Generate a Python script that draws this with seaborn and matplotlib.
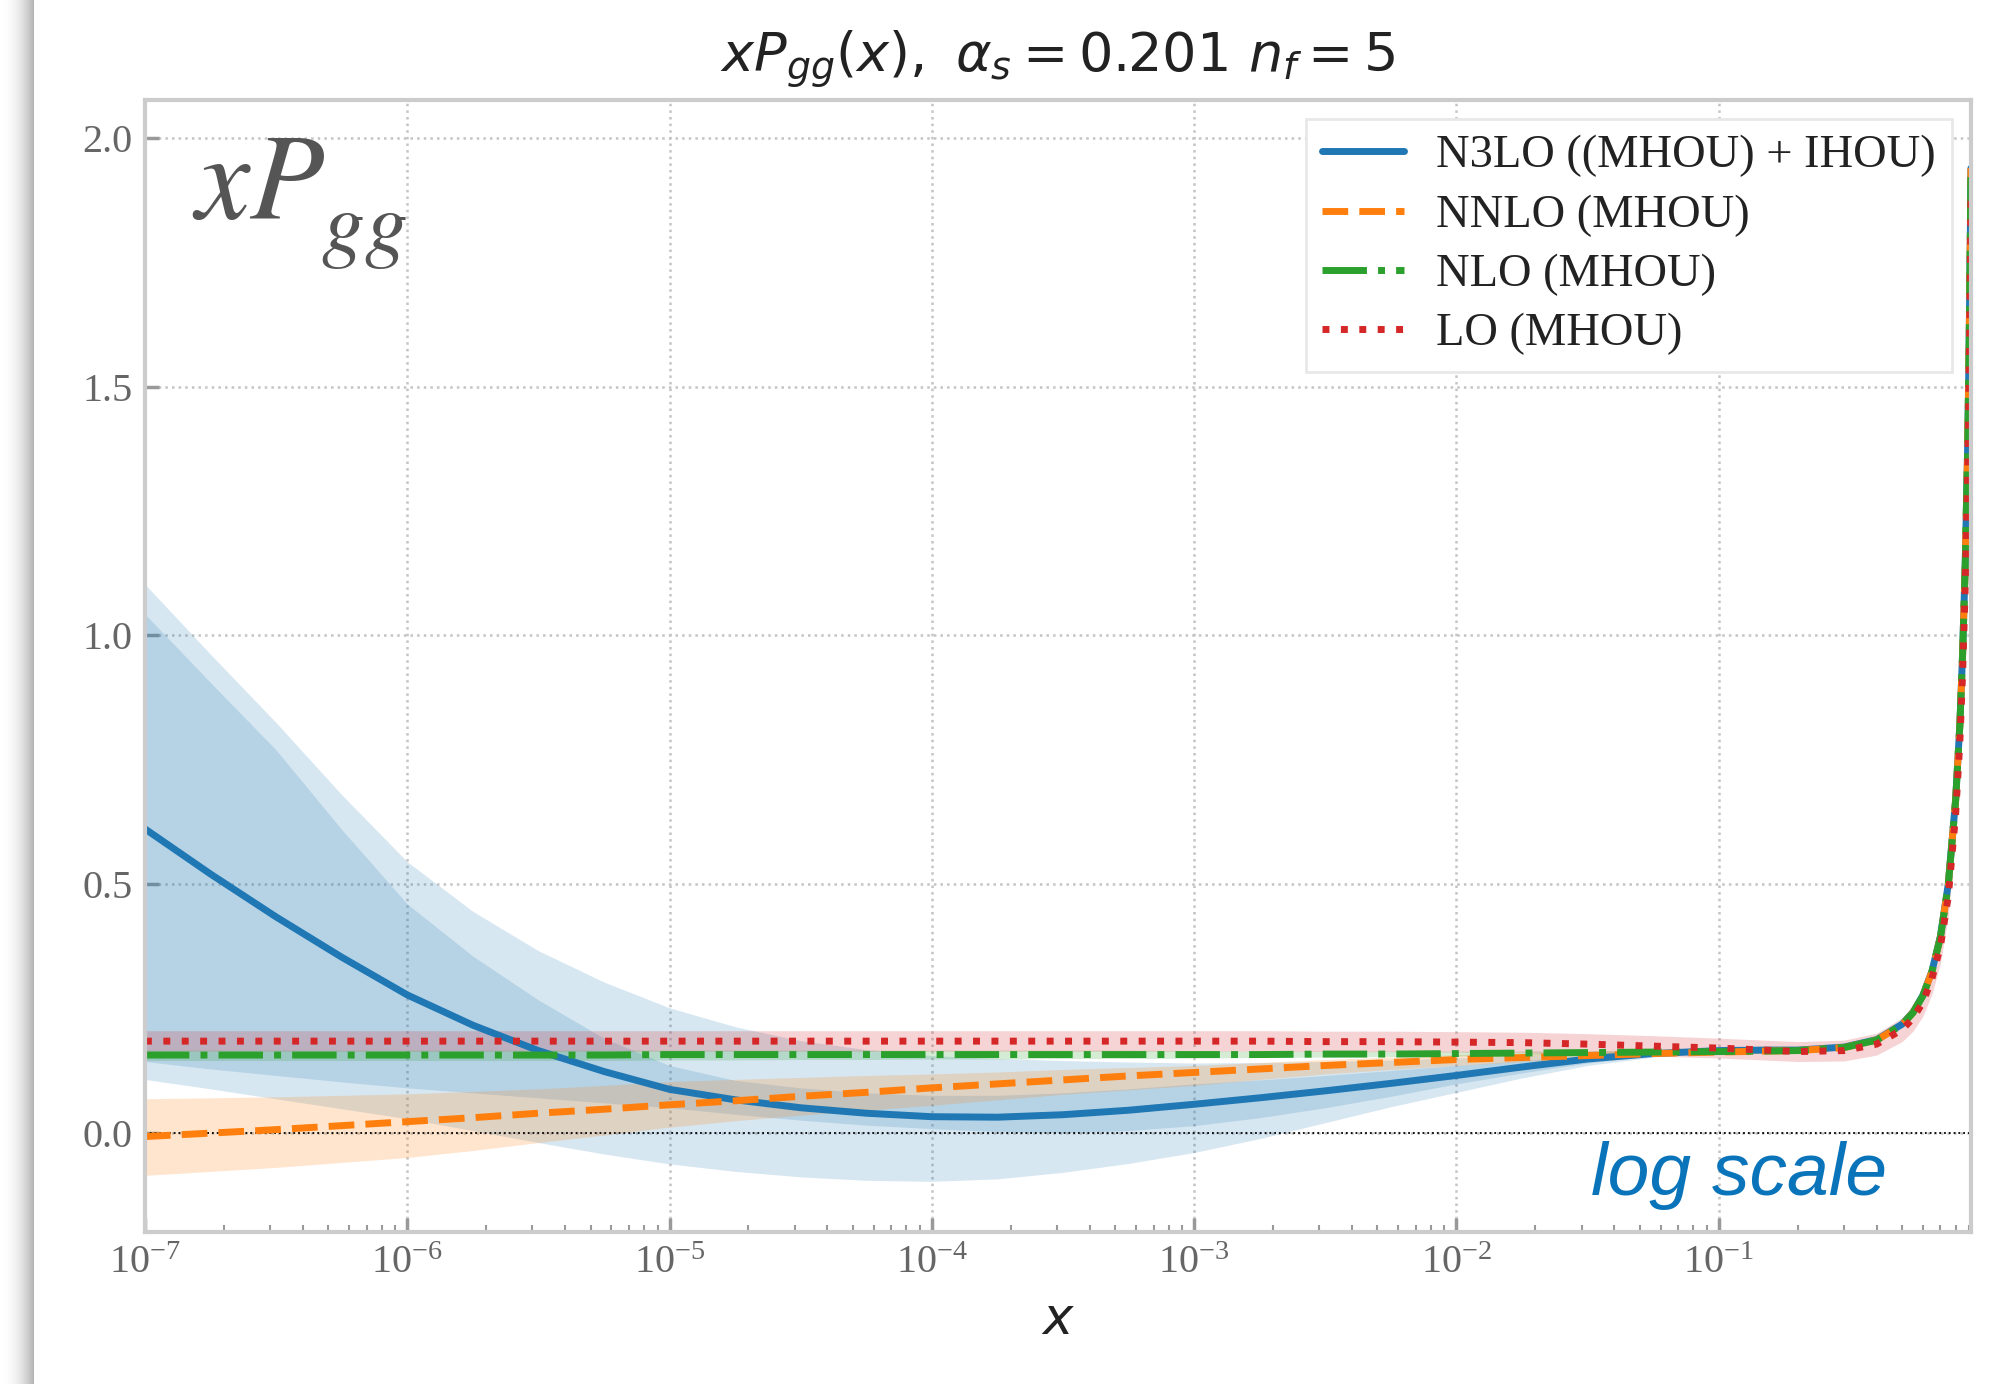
import numpy as np
import matplotlib
matplotlib.use("Agg")
import matplotlib.pyplot as plt
import seaborn as sns

# %% data (one x grid shared by all series)
x_vals = [1e-7, 1.78e-7, 3.16e-7, 5.62e-7, 1e-6, 1.78e-6, 3.16e-6, 5.62e-6,
          1e-5, 1.78e-5, 3.16e-5, 5.62e-5, 1e-4, 1.78e-4, 3.16e-4, 5.62e-4,
          1e-3, 1.78e-3, 3.16e-3, 5.62e-3, 1e-2, 1.78e-2, 3.16e-2, 5.62e-2,
          0.1, 0.15, 0.2, 0.3, 0.4, 0.5, 0.55, 0.6, 0.65, 0.7, 0.75, 0.8, 0.83, 0.85,
          0.87, 0.89, 0.9, 0.91, 0.915]

n3lo = [0.611, 0.520, 0.434, 0.353, 0.277, 0.216, 0.165, 0.123,
        0.087, 0.066, 0.050, 0.039, 0.032, 0.031, 0.036, 0.045,
        0.057, 0.070, 0.084, 0.099, 0.115, 0.132, 0.148, 0.159,
        0.165, 0.166, 0.166, 0.172, 0.187, 0.218, 0.242, 0.276, 0.325, 0.395, 0.500, 0.670, 0.820, 0.960,
        1.140, 1.390, 1.570, 1.800, 1.940]
# N3LO inner band (MHOU)
n3lo_in_lo = [0.143, 0.128, 0.115, 0.102, 0.090, 0.080, 0.070, 0.060,
              0.050, 0.037, 0.025, 0.015, 0.008, 0.002, 0.000, 0.004,
              0.014, 0.030, 0.050, 0.073, 0.098, 0.120, 0.140, 0.155,
              0.162, 0.163, 0.163, 0.169, 0.184, 0.215, 0.239, 0.272, 0.321, 0.390, 0.495, 0.664, 0.813, 0.952,
              1.131, 1.380, 1.560, 1.789, 1.928]
n3lo_in_hi = [1.043, 0.905, 0.770, 0.610, 0.460, 0.355, 0.267, 0.190,
              0.135, 0.105, 0.090, 0.080, 0.075, 0.075, 0.080, 0.088,
              0.098, 0.106, 0.115, 0.125, 0.135, 0.145, 0.155, 0.162,
              0.168, 0.169, 0.169, 0.175, 0.190, 0.221, 0.245, 0.280, 0.329, 0.400, 0.505, 0.676, 0.827, 0.968,
              1.149, 1.400, 1.580, 1.811, 1.952]
# N3LO outer band (MHOU + IHOU)
n3lo_out_lo = [0.107, 0.088, 0.068, 0.048, 0.028, 0.004, -0.020, -0.043,
               -0.063, -0.078, -0.089, -0.096, -0.098, -0.093, -0.080, -0.062,
               -0.040, -0.012, 0.020, 0.052, 0.081, 0.110, 0.135, 0.152,
               0.160, 0.161, 0.161, 0.167, 0.182, 0.212, 0.236, 0.269, 0.317, 0.386, 0.490, 0.658, 0.806, 0.945,
               1.123, 1.371, 1.550, 1.778, 1.916]
n3lo_out_hi = [1.103, 0.962, 0.825, 0.680, 0.545, 0.445, 0.366, 0.303,
               0.251, 0.213, 0.185, 0.167, 0.155, 0.149, 0.145, 0.142,
               0.140, 0.141, 0.143, 0.146, 0.150, 0.155, 0.160, 0.165,
               0.170, 0.171, 0.171, 0.177, 0.192, 0.224, 0.248, 0.283, 0.333, 0.404, 0.510, 0.682, 0.834, 0.975,
               1.157, 1.409, 1.590, 1.822, 1.964]

nnlo = [-0.008, -0.001, 0.006, 0.014, 0.022, 0.030, 0.039, 0.047,
        0.056, 0.064, 0.073, 0.081, 0.090, 0.098, 0.106, 0.114,
        0.121, 0.128, 0.135, 0.141, 0.147, 0.151, 0.155, 0.159,
        0.162, 0.164, 0.165, 0.171, 0.186, 0.217, 0.241, 0.275, 0.324, 0.393, 0.498, 0.668, 0.818, 0.958,
        1.138, 1.388, 1.568, 1.798, 1.940]
nnlo_lo = [-0.086, -0.078, -0.070, -0.060, -0.050, -0.036, -0.020, -0.005,
           0.011, 0.024, 0.035, 0.045, 0.055, 0.066, 0.077, 0.086,
           0.095, 0.107, 0.118, 0.127, 0.135, 0.143, 0.150, 0.155,
           0.158, 0.160, 0.161, 0.167, 0.182, 0.213, 0.237, 0.270, 0.319, 0.387, 0.492, 0.661, 0.810, 0.949,
           1.128, 1.377, 1.556, 1.785, 1.926]
nnlo_hi = [0.068, 0.070, 0.072, 0.075, 0.078, 0.083, 0.088, 0.095,
           0.103, 0.107, 0.111, 0.115, 0.118, 0.122, 0.127, 0.131,
           0.135, 0.141, 0.147, 0.152, 0.157, 0.160, 0.163, 0.165,
           0.166, 0.168, 0.169, 0.175, 0.190, 0.221, 0.245, 0.280, 0.329, 0.399, 0.504, 0.675, 0.826, 0.967,
           1.148, 1.399, 1.580, 1.811, 1.954]

nlo = [0.156, 0.156, 0.156, 0.156, 0.156, 0.156, 0.156, 0.156,
       0.157, 0.157, 0.157, 0.157, 0.157, 0.157, 0.157, 0.157,
       0.157, 0.157, 0.158, 0.158, 0.159, 0.160, 0.161, 0.162,
       0.163, 0.164, 0.165, 0.171, 0.186, 0.217, 0.241, 0.275, 0.324, 0.393, 0.498, 0.668, 0.818, 0.958,
       1.138, 1.388, 1.568, 1.798, 1.940]
nlo_lo = [0.145, 0.145, 0.145, 0.145, 0.145, 0.145, 0.145, 0.145,
          0.146, 0.146, 0.147, 0.147, 0.148, 0.148, 0.149, 0.149,
          0.150, 0.151, 0.152, 0.153, 0.154, 0.156, 0.157, 0.158,
          0.159, 0.160, 0.161, 0.167, 0.182, 0.213, 0.237, 0.270, 0.319, 0.387, 0.492, 0.661, 0.810, 0.949,
          1.128, 1.377, 1.556, 1.785, 1.926]
nlo_hi = [0.166, 0.166, 0.166, 0.166, 0.166, 0.166, 0.166, 0.166,
          0.166, 0.166, 0.166, 0.166, 0.166, 0.166, 0.166, 0.166,
          0.165, 0.164, 0.164, 0.164, 0.164, 0.164, 0.165, 0.166,
          0.167, 0.168, 0.169, 0.175, 0.190, 0.221, 0.245, 0.280, 0.329, 0.399, 0.504, 0.675, 0.826, 0.967,
          1.148, 1.399, 1.580, 1.811, 1.954]

lo = [0.184, 0.184, 0.184, 0.184, 0.184, 0.184, 0.184, 0.184,
      0.184, 0.184, 0.184, 0.184, 0.184, 0.184, 0.184, 0.184,
      0.184, 0.184, 0.183, 0.183, 0.182, 0.181, 0.178, 0.174,
      0.170, 0.166, 0.163, 0.165, 0.178, 0.207, 0.230, 0.262, 0.310, 0.375, 0.475, 0.640, 0.785, 0.920,
      1.095, 1.335, 1.510, 1.730, 1.880]
lo_lo = [0.164, 0.164, 0.164, 0.164, 0.164, 0.164, 0.164, 0.164,
         0.164, 0.164, 0.164, 0.164, 0.164, 0.164, 0.164, 0.164,
         0.164, 0.164, 0.163, 0.163, 0.162, 0.161, 0.158, 0.154,
         0.150, 0.146, 0.143, 0.144, 0.156, 0.183, 0.204, 0.234, 0.279, 0.340, 0.435, 0.593, 0.732, 0.862,
         1.031, 1.263, 1.433, 1.648, 1.795]
lo_hi = [0.205, 0.205, 0.205, 0.205, 0.205, 0.205, 0.205, 0.205,
         0.205, 0.205, 0.205, 0.205, 0.205, 0.205, 0.205, 0.205,
         0.205, 0.205, 0.204, 0.204, 0.203, 0.202, 0.199, 0.195,
         0.190, 0.186, 0.183, 0.186, 0.200, 0.231, 0.256, 0.290, 0.341, 0.410, 0.515, 0.687, 0.838, 0.978,
         1.159, 1.407, 1.587, 1.812, 1.965]

series_labels = ["N3LO ((MHOU) + IHOU)", "NNLO (MHOU)", "NLO (MHOU)", "LO (MHOU)"]
y_ticks = [0.0, 0.5, 1.0, 1.5, 2.0]

# %% style
sns.set_theme(style="whitegrid")
plt.rcParams['font.family'] = ['Liberation Serif', 'DejaVu Serif']
plt.rcParams['mathtext.fontset'] = 'dejavusans'

W, H = 2013, 1384
fig = plt.figure(figsize=(W / 100, H / 100), dpi=100)
ax = fig.add_axes([0.072, 0.1098, 0.9071, 0.8179])

# page shadow on the left edge (decoration only)
prof = np.linspace(0, 1, 39) ** 2.2
prof[-5:] = 0.0
shade = 1.0 - 0.4 * prof
img = np.ones((H, 39, 3)) * shade[None, :, None]
fig.figimage(img, xo=0, yo=0, origin='upper', zorder=0)

blue, orange, green, red = '#1f77b4', '#ff7f0e', '#2ca02c', '#d62728'
ax.set_xscale('log')

# bands
ax.fill_between(x_vals, n3lo_out_lo, n3lo_out_hi, color=blue, alpha=0.175, lw=0)
ax.fill_between(x_vals, n3lo_in_lo, n3lo_in_hi, color=blue, alpha=0.175, lw=0)
ax.fill_between(x_vals, nnlo_lo, nnlo_hi, color=orange, alpha=0.2, lw=0)
ax.fill_between(x_vals, nlo_lo, nlo_hi, color=green, alpha=0.2, lw=0)
ax.fill_between(x_vals, lo_lo, lo_hi, color=red, alpha=0.2, lw=0)

lw = 5
sns.lineplot(x=x_vals, y=n3lo, ax=ax, color=blue, lw=lw, linestyle='-', label=series_labels[0])
sns.lineplot(x=x_vals, y=nnlo, ax=ax, color=orange, lw=lw, linestyle='--', label=series_labels[1])
sns.lineplot(x=x_vals, y=nlo, ax=ax, color=green, lw=lw, linestyle='-.', label=series_labels[2])
sns.lineplot(x=x_vals, y=lo, ax=ax, color=red, lw=lw, linestyle=':', label=series_labels[3])

ax.axhline(0, color='black', lw=1.3, linestyle=':', zorder=1)

ax.set_xlim(1e-7, 0.915)
ax.set_ylim(-0.2, 2.077)
ax.set_yticks(y_ticks)

ax.grid(True, which='major', color='#c4c4c4', linestyle=':', lw=1.8)
ax.grid(False, which='minor')
for s in ax.spines.values():
    s.set_color('#cccccc')
    s.set_linewidth(3)

ax.tick_params(axis='both', which='major', direction='in', labelsize=29, labelcolor='#666666',
               color='#999999', length=10, width=2.5, pad=9, bottom=True, left=True)
ax.tick_params(axis='x', which='minor', direction='in', color='#999999', length=5, width=1.5, bottom=True)

ax.set_title(r'$xP_{gg}(x),\ \alpha_s = 0.201\ n_f = 5$', fontsize=39, color='#222222', pad=20)
ax.set_xlabel(r'$x$', fontsize=37, color='#222222', labelpad=12)
ax.set_ylabel('')

# big label, subscript placed by hand to sit lower like the original
ax.text(0.026, 0.8958, r'$xP$', transform=ax.transAxes, fontsize=88, color='#555555',
        math_fontfamily='stix', ha='left', va='baseline')
ax.text(0.0965, 0.8666, r'$gg$', transform=ax.transAxes, fontsize=62, color='#555555',
        math_fontfamily='stix', ha='left', va='baseline')
ax.text(0.954, 0.033, 'log scale', transform=ax.transAxes, fontsize=54, color='#0a74ba',
        family='Liberation Sans', style='italic', ha='right', va='baseline')

leg = ax.legend(loc='upper right', fontsize=33.5, frameon=True, fancybox=False, framealpha=1,
                edgecolor='#e8e8e8', borderaxespad=0.4, handlelength=1.75, handletextpad=0.7,
                labelspacing=0.36, borderpad=0.35)
leg.get_frame().set_linewidth(2)
for t in leg.get_texts():
    t.set_color('#222222')

fig.savefig('out.png', dpi=100)
